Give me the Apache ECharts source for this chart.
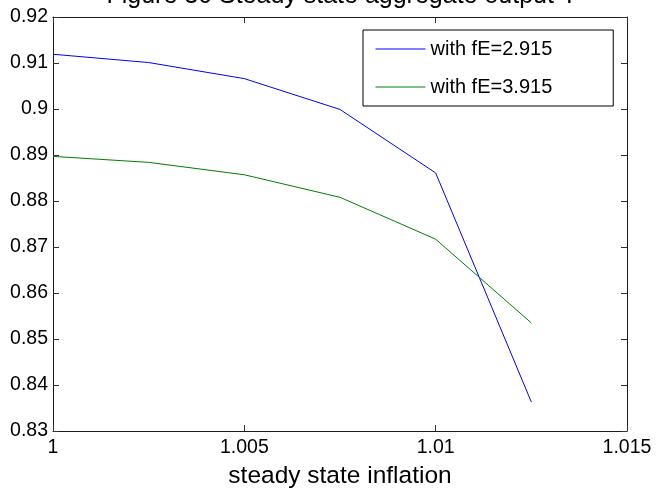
<!DOCTYPE html>
<html>
<head>
<meta charset="utf-8">
<script src="https://cdn.jsdelivr.net/npm/echarts@6/dist/echarts.min.js"></script>
<style>
html,body{margin:0;padding:0;background:#fff;}
#chart{width:657px;height:494px;}
</style>
</head>
<body>
<div id="chart"></div>
<script>
var titleText = 'Figure 30 Steady state aggregate output Y';
var xName = 'steady state inflation';
var inflation = [1, 1.0025, 1.005, 1.0075, 1.01, 1.0125];
var outputFE2915 = [0.9119, 0.9101, 0.9066, 0.8999, 0.8861, 0.8363];
var outputFE3915 = [0.8897, 0.8884, 0.8857, 0.8808, 0.8717, 0.8535];
var seriesNames = ['with fE=2.915', 'with fE=3.915'];
var seriesColors = ['#0000ff', '#008000'];

var FONT = 'Liberation Sans, Arial, sans-serif';
function pairs(xs, ys){ return xs.map(function(x,i){ return [x, ys[i]]; }); }
function fmt(v){ return String(+v.toFixed(4)); }

var axisLineStyle = {color:'#1a1a1a', width:1};
var tick = {show:true, inside:true, length:6, lineStyle:{color:'#333', width:1}};

var chart = echarts.init(document.getElementById('chart'), null, {renderer:'canvas'});
chart.setOption({
  animation:false,
  backgroundColor:'#fff',
  title:{
    text:titleText, left:337, top:-21, textAlign:'center',
    textStyle:{fontFamily:FONT, fontSize:25, fontWeight:'normal', color:'#000'}
  },
  legend:{
    orient:'vertical', left:363, top:30,
    padding:[9,61,9,12], itemWidth:50, itemHeight:20, itemGap:18,
    borderColor:'#000', borderWidth:1, backgroundColor:'#fff',
    itemStyle:{opacity:0},
    lineStyle:{width:1},
    textStyle:{fontFamily:FONT, fontSize:20, color:'#000'},
    data:seriesNames
  },
  grid:{left:53, right:30, top:17, bottom:57, containLabel:false},
  xAxis:[{
    type:'value', min:1, max:1.015, interval:0.005,
    name:xName, nameLocation:'middle', nameGap:33,
    nameTextStyle:{fontFamily:FONT, fontSize:24.5, color:'#000'},
    axisLine:{show:true, onZero:false, lineStyle:axisLineStyle},
    axisTick:tick, splitLine:{show:false},
    axisLabel:{fontFamily:FONT, fontSize:19.5, color:'#000', margin:7, formatter:fmt}
  },{
    type:'value', position:'top', min:1, max:1.015, interval:0.005,
    axisLine:{show:true, onZero:false, lineStyle:axisLineStyle},
    axisTick:tick, splitLine:{show:false}, axisLabel:{show:false}
  }],
  yAxis:[{
    type:'value', min:0.83, max:0.92, interval:0.01,
    axisLine:{show:true, onZero:false, lineStyle:axisLineStyle},
    axisTick:tick, splitLine:{show:false},
    axisLabel:{fontFamily:FONT, fontSize:19.5, color:'#000', margin:5, formatter:fmt}
  },{
    type:'value', position:'right', min:0.83, max:0.92, interval:0.01,
    axisLine:{show:true, onZero:false, lineStyle:axisLineStyle},
    axisTick:tick, splitLine:{show:false}, axisLabel:{show:false}
  }],
  series:[{
    name:seriesNames[0], type:'line', data:pairs(inflation, outputFE2915),
    symbol:'none', lineStyle:{color:seriesColors[0], width:1}, itemStyle:{color:seriesColors[0]}
  },{
    name:seriesNames[1], type:'line', data:pairs(inflation, outputFE3915),
    symbol:'none', lineStyle:{color:seriesColors[1], width:1}, itemStyle:{color:seriesColors[1]}
  }]
});
</script>
</body>
</html>
